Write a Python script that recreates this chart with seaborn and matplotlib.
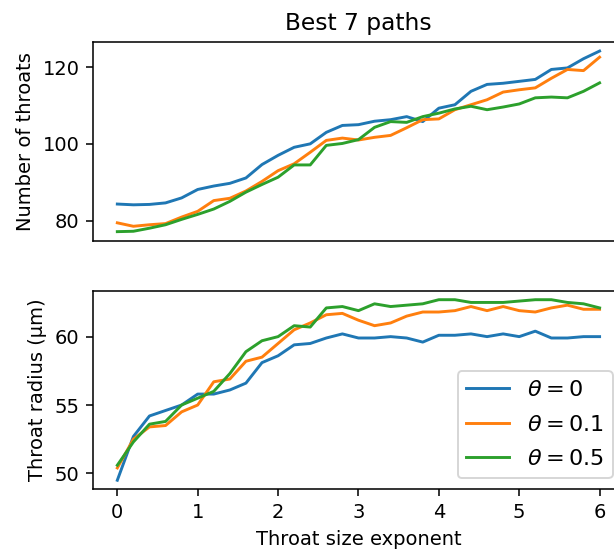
import seaborn as sns
import matplotlib.pyplot as plt
import pandas as pd
import numpy as np

# Throat size exponent, 0 to 6 in steps of 0.2
exponent = np.round(np.arange(0, 6.01, 0.2), 1)
thetas = ["$\\theta = 0$", "$\\theta = 0.1$", "$\\theta = 0.5$"]

# Number of throats (best 7 paths)
throats_t0 = [84.3, 84.1, 84.2, 84.6, 85.9, 88.1, 89.0, 89.7, 91.1, 94.6, 97.0,
              99.1, 100.0, 103.0, 104.8, 105.0, 105.9, 106.3, 107.1, 105.8, 109.3,
              110.2, 113.7, 115.5, 115.8, 116.3, 116.8, 119.4, 119.8, 122.2, 124.2]
throats_t01 = [79.4, 78.5, 78.9, 79.2, 80.9, 82.4, 85.2, 85.8, 87.7, 90.2, 93.0,
               94.8, 97.8, 100.9, 101.5, 101.0, 101.7, 102.2, 104.2, 106.3, 106.5,
               108.9, 110.2, 111.5, 113.5, 114.1, 114.6, 117.1, 119.4, 119.1, 122.6]
throats_t05 = [77.1, 77.2, 78.0, 78.9, 80.3, 81.6, 83.0, 85.0, 87.4, 89.4, 91.3,
               94.5, 94.5, 99.6, 100.1, 101.1, 104.3, 105.8, 105.6, 107.1, 108.0,
               109.1, 109.8, 108.9, 109.6, 110.4, 112.0, 112.2, 112.0, 113.7, 115.9]

# Throat radius (um)
radius_t0 = [49.5, 52.7, 54.2, 54.6, 55.0, 55.8, 55.8, 56.1, 56.6, 58.1, 58.6,
             59.4, 59.5, 59.9, 60.2, 59.9, 59.9, 60.0, 59.9, 59.6, 60.1,
             60.1, 60.2, 60.0, 60.2, 60.0, 60.4, 59.9, 59.9, 60.0, 60.0]
radius_t01 = [50.4, 52.5, 53.4, 53.5, 54.5, 55.0, 56.7, 56.9, 58.2, 58.5, 59.5,
              60.5, 61.0, 61.6, 61.7, 61.2, 60.8, 61.0, 61.5, 61.8, 61.8,
              61.9, 62.2, 61.9, 62.2, 61.9, 61.8, 62.1, 62.3, 62.0, 62.0]
radius_t05 = [50.6, 52.3, 53.6, 53.8, 55.0, 55.5, 56.0, 57.3, 58.9, 59.7, 60.0,
              60.8, 60.7, 62.1, 62.2, 61.9, 62.4, 62.2, 62.3, 62.4, 62.7,
              62.7, 62.5, 62.5, 62.5, 62.6, 62.7, 62.7, 62.5, 62.4, 62.1]

n = len(exponent)
df = pd.DataFrame({
    "exponent": np.tile(exponent, 3),
    "theta": np.repeat(thetas, n),
    "throats": throats_t0 + throats_t01 + throats_t05,
    "radius": radius_t0 + radius_t01 + radius_t05,
})

dpi = 140
fig = plt.figure(figsize=(614 / dpi, 550 / dpi), dpi=dpi)
ax1 = fig.add_axes([0.1518, 0.5624, 0.864, 0.3612])
ax2 = fig.add_axes([0.1518, 0.1104, 0.864, 0.3611], sharex=ax1)

sns.lineplot(data=df, x="exponent", y="throats", hue="theta", ax=ax1, legend=False)
ax1.set_title("Best 7 paths")
ax1.set_ylabel("Number of throats")
ax1.set_xlabel("")
ax1.tick_params(axis="x", bottom=False, labelbottom=False)

sns.lineplot(data=df, x="exponent", y="radius", hue="theta", ax=ax2)
ax2.set_xlabel("Throat size exponent")
ax2.set_ylabel("Throat radius (μm)")
sns.move_legend(ax2, "lower right", title=None, fontsize=11.5,
                handlelength=1.9, labelspacing=0.65)

fig.savefig("out.png", dpi=dpi)
